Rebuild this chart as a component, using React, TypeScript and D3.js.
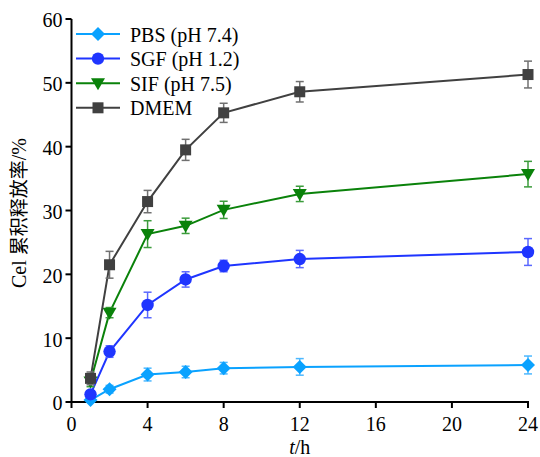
import React from "react";
import * as d3 from "d3";

const times = [1, 2, 4, 6, 8, 12, 24];
const pbsMean = [0.3, 2.0, 4.3, 4.7, 5.3, 5.5, 5.8];
const pbsErr = [0.3, 0.6, 1.0, 0.9, 0.9, 1.3, 1.4];
const sgfMean = [1.2, 7.9, 15.2, 19.2, 21.3, 22.4, 23.5];
const sgfErr = [0.5, 0.9, 2.0, 1.2, 0.9, 1.35, 2.1];
const sifMean = [3.2, 14.0, 26.3, 27.6, 30.1, 32.6, 35.7];
const sifErr = [0.8, 0.8, 2.1, 1.2, 1.35, 1.2, 2.0];
const dmemMean = [3.7, 21.5, 31.4, 39.5, 45.3, 48.6, 51.3];
const dmemErr = [1.0, 2.1, 1.75, 1.65, 1.5, 1.6, 2.1];
const seriesNames = ["PBS (pH 7.4)", "SGF (pH 1.2)", "SIF (pH 7.5)", "DMEM"];
const xTicks = [0, 4, 8, 12, 16, 20, 24];
const yTicks = [0, 10, 20, 30, 40, 50, 60];

const W = 540;
const H = 457;

type Shape = "diamond" | "circle" | "triangleDown" | "square";

const series = [
  { name: seriesNames[0], mean: pbsMean, err: pbsErr, color: "#0aa2ff", errColor: "#4db8ff", shape: "diamond" as Shape },
  { name: seriesNames[1], mean: sgfMean, err: sgfErr, color: "#1f35ff", errColor: "#5a68ff", shape: "circle" as Shape },
  { name: seriesNames[2], mean: sifMean, err: sifErr, color: "#0a820a", errColor: "#3c9c3c", shape: "triangleDown" as Shape },
  { name: seriesNames[3], mean: dmemMean, err: dmemErr, color: "#404040", errColor: "#707070", shape: "square" as Shape },
];

const SERIF = "Liberation Serif, DejaVu Serif, serif";
const CJK = "Noto Sans CJK SC, sans-serif";
const FS = 20;

function Marker({ shape, x, y, color }: { shape: Shape; x: number; y: number; color: string }) {
  if (shape === "circle") return <circle cx={x} cy={y} r={6.2} fill={color} />;
  if (shape === "square") return <rect x={x - 5.5} y={y - 5.5} width={11} height={11} fill={color} />;
  if (shape === "diamond")
    return <path d={`M${x},${y - 7}L${x + 7},${y}L${x},${y + 7}L${x - 7},${y}Z`} fill={color} />;
  return <path d={`M${x - 7},${y - 5}L${x + 7},${y - 5}L${x},${y + 7}Z`} fill={color} />;
}

export default function App() {
  const x = d3.scaleLinear().domain([0, 24]).range([71.5, 528]);
  const y = d3.scaleLinear().domain([0, 60]).range([402, 19]);
  const line = d3
    .line<number>()
    .x((_, i) => x(times[i]))
    .y((d) => y(d));
  const ts = { fontFamily: SERIF, fontSize: FS };

  return (
    <svg width={W} height={H} style={{ position: "absolute", left: 0, top: 0, background: "#fff" }}>
      {/* axes */}
      <line x1={x(0)} x2={x(0)} y1={y(0) + 1} y2={y(60)} stroke="#000" strokeWidth={2} />
      <line x1={x(0) - 1} x2={x(24) + 1} y1={y(0)} y2={y(0)} stroke="#000" strokeWidth={2} />
      {yTicks.map((t) => (
        <g key={"y" + t}>
          <line x1={x(0) - 6} x2={x(0)} y1={y(t)} y2={y(t)} stroke="#000" strokeWidth={2} />
          <text x={x(0) - 9} y={y(t)} dy="0.42em" textAnchor="end" style={ts}>
            {t}
          </text>
        </g>
      ))}
      {xTicks.map((t) => (
        <g key={"x" + t}>
          <line x1={x(t)} x2={x(t)} y1={y(0)} y2={y(0) + 6} stroke="#000" strokeWidth={2} />
          <text x={x(t)} y={431} textAnchor="middle" style={ts}>
            {t}
          </text>
        </g>
      ))}
      <text x={(x(0) + x(24)) / 2} y={454} textAnchor="middle" style={ts}>
        <tspan fontStyle="italic">t</tspan>/h
      </text>
      <text transform={`translate(26,213) rotate(-90)`} textAnchor="middle" style={ts}>
        Cel <tspan style={{ fontFamily: CJK, fontSize: 19 }}>累积释放率</tspan>/%
      </text>

      {/* series */}
      {series.map((s) => (
        <g key={s.name}>
          <path d={line(s.mean) || ""} fill="none" stroke={s.color} strokeWidth={2} />
          {s.mean.map((m, i) => {
            const cx = x(times[i]);
            const y1 = y(m + s.err[i]);
            const y2 = y(m - s.err[i]);
            return (
              <g key={i} stroke={s.errColor} strokeWidth={1.5}>
                <line x1={cx} x2={cx} y1={y1} y2={y2} />
                <line x1={cx - 4} x2={cx + 4} y1={y1} y2={y1} />
                <line x1={cx - 4} x2={cx + 4} y1={y2} y2={y2} />
              </g>
            );
          })}
          {s.mean.map((m, i) => (
            <Marker key={"m" + i} shape={s.shape} x={x(times[i])} y={y(m)} color={s.color} />
          ))}
        </g>
      ))}

      {/* legend */}
      {series.map((s, i) => {
        const ly = 34 + i * 24.6;
        return (
          <g key={"lg" + s.name}>
            <line x1={76} x2={120} y1={ly} y2={ly} stroke={s.color} strokeWidth={2} />
            <Marker shape={s.shape} x={98} y={ly} color={s.color} />
            <text x={130} y={ly} dy="0.38em" style={ts}>
              {s.name}
            </text>
          </g>
        );
      })}
    </svg>
  );
}
